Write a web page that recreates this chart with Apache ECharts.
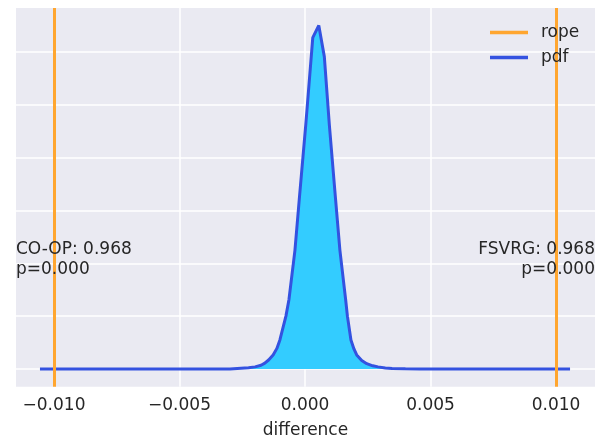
<!DOCTYPE html>
<html>
<head>
<meta charset="utf-8">
<title>difference pdf</title>
<script src="https://cdn.jsdelivr.net/npm/echarts@6/dist/echarts.min.js"></script>
<style>
  html, body { margin: 0; padding: 0; background: #fff; }
  #chart { width: 598px; height: 438px; }
</style>
</head>
<body>
<div id="chart"></div>
<script>
// x ticks, rope bounds and the pdf curve
var xTicks = [-0.010, -0.005, 0.000, 0.005, 0.010];
var yGrid = [0, 100, 200, 300, 400, 500, 600];
var rope = [-0.010, 0.010];
var pdfX = [-0.01056, -0.00299, -0.00255, -0.00225, -0.00199, -0.00175, -0.00160, -0.00145,
  -0.00127, -0.00112, -0.00100, -0.00076, -0.00064, -0.00040, -0.00023, 0.00003, 0.00031,
  0.00055, 0.00077, 0.00097, 0.00122, 0.00139, 0.00162, 0.00169, 0.00183, 0.00195, 0.00206,
  0.00226, 0.00246, 0.00270, 0.00291, 0.00320, 0.00347, 0.00400, 0.00458, 0.01056];
var pdfY = [0, 0, 1.5, 2.5, 4, 7, 11, 17,
  26.5, 39, 55, 100, 131, 225, 320, 462, 627,
  650, 591, 462, 320, 225, 131, 100, 55, 38, 26.5,
  16, 10, 6, 4, 2, 1, 0.4, 0, 0];
var leftText = 'CO-OP: 0.968\np=0.000';
var rightText = 'FSVRG: 0.968\np=0.000';

var pdfData = pdfX.map(function (x, i) { return [x, pdfY[i]]; });
var font = 'DejaVu Sans';
var ink = '#262626';

var chart = echarts.init(document.getElementById('chart'));
chart.setOption({
  animation: false,
  backgroundColor: '#fff',
  grid: {
    left: 16, top: 8, right: 3, bottom: 51.3,
    outerBoundsMode: 'none', containLabel: false,
    show: true, backgroundColor: '#eaeaf2', borderWidth: 0
  },
  legend: {
    orient: 'vertical',
    left: 490, top: 24,
    padding: 0,
    itemGap: 8,
    z: 20,
    icon: 'rect',
    itemWidth: 38, itemHeight: 3.5,
    textStyle: { fontFamily: font, fontSize: 17, color: ink, padding: [0, 0, 0, 8] },
    data: ['rope', 'pdf']
  },
  xAxis: {
    type: 'value',
    min: -0.011514, max: 0.011554,
    name: 'difference', nameLocation: 'middle', nameGap: 35,
    nameTextStyle: { fontFamily: font, fontSize: 17, color: ink },
    axisLine: { show: false },
    axisTick: { show: false, customValues: xTicks },
    axisLabel: {
      customValues: xTicks, margin: 10,
      fontFamily: font, fontSize: 17, color: ink,
      formatter: function (v) { return (v < 0 ? '\u2212' : '') + Math.abs(v).toFixed(3); }
    },
    splitLine: { show: true, lineStyle: { color: '#fff', width: 1.5 } }
  },
  yAxis: {
    type: 'value',
    min: -33.5, max: 683,
    axisLine: { show: false },
    axisTick: { show: false, customValues: yGrid },
    axisLabel: { show: false, customValues: yGrid },
    splitLine: { show: true, lineStyle: { color: '#fff', width: 1.5 } }
  },
  series: [{
    name: 'rope',
    type: 'line',
    data: [],
    color: '#ffa630',
    lineStyle: { color: '#ffa630', width: 3 },
    markLine: {
      silent: true,
      symbol: 'none',
      label: { show: false },
      lineStyle: { color: '#ffa630', width: 3, type: 'solid' },
      data: rope.map(function (r) { return { xAxis: r }; })
    },
    z: 3
  }, {
    name: 'pdf',
    type: 'line',
    data: pdfData,
    showSymbol: false,
    color: '#3452e0',
    lineStyle: { color: '#3452e0', width: 3 },
    areaStyle: { color: '#33ccff', opacity: 1 },
    z: 4
  }],
  graphic: [{
    type: 'text', x: 16, y: 240, z: 100,
    style: { text: leftText, font: '17px "DejaVu Sans"', fill: ink, lineHeight: 20, align: 'left' }
  }, {
    type: 'text', x: 595, y: 240, z: 100,
    style: { text: rightText, font: '17px "DejaVu Sans"', fill: ink, lineHeight: 20, align: 'right' }
  }]
});
</script>
</body>
</html>
